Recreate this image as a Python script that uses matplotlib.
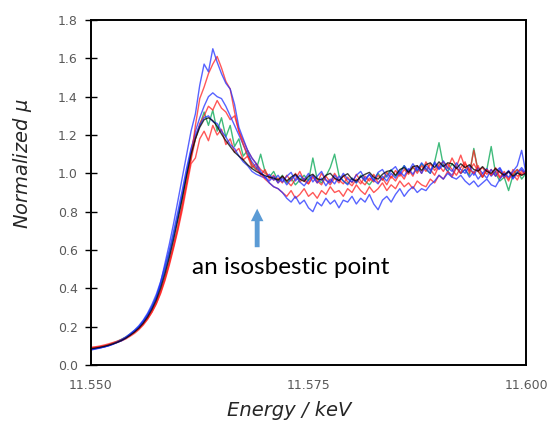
import numpy as np
import matplotlib
matplotlib.use('Agg')
import matplotlib.pyplot as plt

# --- data (0.5 eV sampling) ---
energy = np.linspace(11.550, 11.600, 101)

blue_hi = [0.080, 0.086, 0.090, 0.094, 0.100, 0.108, 0.118, 0.126, 0.140, 0.160,
           0.178, 0.198, 0.228, 0.262, 0.300, 0.350, 0.430, 0.530, 0.630, 0.740,
           0.860, 0.980, 1.100, 1.220, 1.310, 1.460, 1.570, 1.530, 1.650, 1.580,
           1.520, 1.470, 1.440, 1.360, 1.240, 1.180, 1.120, 1.080, 1.050, 1.010,
           0.980, 0.950, 0.930, 0.920, 0.900, 0.870, 0.850, 0.880, 0.840, 0.860,
           0.820, 0.800, 0.850, 0.830, 0.870, 0.840, 0.860, 0.820, 0.860, 0.850,
           0.880, 0.840, 0.870, 0.850, 0.890, 0.840, 0.810, 0.860, 0.880, 0.850,
           0.890, 0.920, 0.880, 0.910, 0.930, 0.900, 0.920, 0.910, 0.940, 0.960,
           0.990, 0.970, 1.000, 0.980, 0.970, 0.990, 0.960, 0.940, 0.960, 0.930,
           0.950, 0.970, 0.940, 0.930, 0.970, 1.000, 0.980, 1.010, 1.040, 1.120,
           1.000]

red_hi = [0.090, 0.092, 0.095, 0.100, 0.104, 0.112, 0.118, 0.126, 0.136, 0.150,
          0.165, 0.184, 0.208, 0.238, 0.275, 0.320, 0.378, 0.448, 0.530, 0.620,
          0.715, 0.830, 0.950, 1.080, 1.250, 1.390, 1.450, 1.520, 1.570, 1.610,
          1.550, 1.480, 1.440, 1.320, 1.220, 1.150, 1.090, 1.050, 1.020, 1.000,
          0.970, 0.950, 0.930, 0.920, 0.900, 0.880, 0.910, 0.870, 0.890, 0.920,
          0.880, 0.900, 0.870, 0.910, 0.890, 0.930, 0.900, 0.910, 0.880, 0.920,
          0.900, 0.940, 0.910, 0.890, 0.930, 0.900, 0.920, 0.950, 0.910, 0.940,
          0.920, 0.960, 0.930, 0.950, 0.920, 0.960, 0.940, 0.930, 0.970, 0.950,
          0.990, 0.970, 1.010, 0.980, 1.030, 1.000, 1.050, 1.020, 1.000, 1.040,
          0.980, 1.020, 0.990, 1.030, 0.980, 1.010, 0.970, 1.000, 1.020, 0.990,
          1.010]

blue_mid = [0.082, 0.085, 0.089, 0.094, 0.100, 0.108, 0.117, 0.128, 0.142, 0.158,
            0.176, 0.198, 0.225, 0.258, 0.300, 0.350, 0.415, 0.490, 0.575, 0.675,
            0.780, 0.895, 1.010, 1.120, 1.220, 1.290, 1.350, 1.400, 1.420, 1.400,
            1.390, 1.350, 1.300, 1.250, 1.200, 1.150, 1.100, 1.060, 1.030, 1.000,
            0.980, 0.960, 0.985, 0.950, 0.975, 0.940, 0.970, 0.990, 0.955, 0.935,
            0.965, 0.990, 0.950, 0.975, 0.935, 0.970, 0.945, 0.985, 0.960, 0.940,
            0.975, 0.950, 0.985, 0.960, 0.995, 0.965, 0.945, 0.985, 0.960, 1.000,
            0.975, 1.010, 0.985, 1.025, 0.995, 1.035, 1.000, 1.040, 1.015, 1.050,
            1.020, 1.045, 1.010, 0.990, 1.035, 1.000, 1.020, 0.980, 1.010, 0.970,
            1.000, 1.025, 0.985, 1.010, 1.030, 0.990, 1.015, 0.975, 1.005, 1.030,
            1.000]

red_mid = [0.088, 0.091, 0.094, 0.099, 0.104, 0.111, 0.120, 0.130, 0.142, 0.156,
           0.172, 0.192, 0.216, 0.246, 0.283, 0.328, 0.385, 0.455, 0.535, 0.625,
           0.725, 0.835, 0.950, 1.070, 1.180, 1.260, 1.300, 1.350, 1.330, 1.380,
           1.340, 1.320, 1.280, 1.300, 1.220, 1.170, 1.120, 1.080, 1.050, 1.020,
           1.000, 0.985, 0.965, 0.975, 0.950, 0.990, 0.960, 1.000, 0.955, 0.975,
           0.945, 0.990, 0.960, 0.940, 0.985, 0.955, 1.000, 0.965, 0.945, 0.980,
           0.950, 0.995, 0.960, 0.940, 0.975, 0.955, 0.990, 0.965, 1.005, 0.975,
           1.015, 0.985, 1.020, 0.995, 1.035, 1.000, 1.040, 1.010, 1.050, 1.015,
           1.045, 1.060, 1.025, 1.080, 1.035, 1.095, 1.030, 1.015, 1.050, 1.010,
           1.030, 0.995, 1.020, 0.985, 1.015, 0.975, 1.010, 0.995, 0.965, 1.015,
           0.995]

green_a = [0.086, 0.090, 0.093, 0.098, 0.105, 0.114, 0.123, 0.134, 0.146, 0.162,
           0.180, 0.200, 0.228, 0.262, 0.305, 0.355, 0.420, 0.500, 0.585, 0.680,
           0.780, 0.880, 0.990, 1.090, 1.180, 1.250, 1.320, 1.250, 1.330, 1.220,
           1.290, 1.190, 1.250, 1.140, 1.180, 1.090, 1.120, 1.040, 1.020, 1.100,
           1.010, 0.980, 1.010, 0.960, 0.990, 0.950, 0.975, 0.940, 0.965, 0.990,
           0.960, 1.080, 0.970, 0.950, 0.985, 1.030, 1.100, 0.990, 0.960, 0.945,
           0.975, 0.950, 0.990, 0.960, 0.940, 0.970, 1.000, 0.965, 0.990, 1.020,
           0.985, 1.010, 1.040, 1.000, 1.030, 1.010, 1.050, 1.020, 1.000, 1.060,
           1.160, 1.040, 1.010, 1.050, 1.030, 1.000, 1.020, 0.990, 1.130, 1.010,
           0.980, 1.020, 1.140, 1.000, 0.960, 0.980, 0.910, 0.990, 1.020, 0.970,
           1.000]

red_low = [0.092, 0.095, 0.099, 0.104, 0.110, 0.117, 0.124, 0.133, 0.144, 0.157,
           0.172, 0.190, 0.212, 0.240, 0.275, 0.318, 0.372, 0.440, 0.520, 0.610,
           0.705, 0.810, 0.930, 1.050, 1.080, 1.180, 1.220, 1.170, 1.250, 1.200,
           1.230, 1.150, 1.180, 1.110, 1.130, 1.070, 1.090, 1.030, 1.050, 0.990,
           1.020, 0.970, 0.990, 0.950, 0.985, 0.960, 0.935, 0.970, 1.010, 0.960,
           0.945, 0.980, 0.950, 1.000, 0.965, 0.940, 0.975, 0.950, 0.990, 0.955,
           0.935, 0.970, 0.945, 0.985, 0.960, 0.995, 0.950, 0.975, 0.940, 0.985,
           0.960, 1.000, 0.970, 1.020, 0.985, 1.040, 1.000, 1.060, 1.020, 0.990,
           1.040, 1.010, 1.050, 1.020, 0.990, 1.030, 1.060, 1.000, 1.120, 1.010,
           0.980, 1.020, 0.990, 1.010, 0.975, 1.000, 0.960, 1.020, 0.985, 1.000,
           1.010]

blue_low = [0.078, 0.083, 0.088, 0.094, 0.101, 0.110, 0.120, 0.132, 0.146, 0.163,
            0.182, 0.205, 0.234, 0.270, 0.315, 0.368, 0.435, 0.515, 0.600, 0.700,
            0.805, 0.915, 1.030, 1.130, 1.200, 1.250, 1.290, 1.300, 1.270, 1.260,
            1.220, 1.190, 1.150, 1.130, 1.090, 1.060, 1.040, 1.010, 0.995, 0.985,
            0.975, 0.995, 0.965, 0.990, 0.955, 0.985, 1.005, 0.960, 0.990, 0.965,
            1.000, 0.955, 0.985, 1.010, 0.965, 0.950, 0.990, 0.960, 1.000, 0.970,
            0.955, 0.990, 1.010, 0.970, 0.995, 0.960, 1.005, 1.020, 0.980, 1.015,
            1.035, 0.995, 1.040, 1.010, 1.050, 1.015, 1.055, 1.025, 1.000, 1.060,
            1.025, 1.065, 1.030, 1.010, 1.055, 1.020, 1.000, 1.040, 0.990, 1.030,
            1.000, 0.975, 1.020, 0.985, 1.025, 0.980, 1.010, 0.970, 1.005, 1.020,
            0.990]

black = [0.085, 0.088, 0.092, 0.097, 0.103, 0.110, 0.118, 0.128, 0.140, 0.155,
         0.172, 0.192, 0.218, 0.250, 0.290, 0.338, 0.400, 0.475, 0.560, 0.655,
         0.760, 0.870, 0.990, 1.100, 1.180, 1.240, 1.280, 1.290, 1.275, 1.245,
         1.205, 1.170, 1.140, 1.110, 1.090, 1.070, 1.045, 1.025, 1.010, 0.998,
         0.988, 0.980, 0.975, 0.965, 0.985, 0.960, 0.980, 0.995, 0.970, 0.958,
         0.985, 0.995, 0.972, 0.965, 0.990, 1.000, 0.975, 0.962, 0.985, 0.998,
         0.970, 0.960, 0.982, 0.995, 1.005, 0.980, 0.970, 0.995, 1.010, 1.015,
         0.990, 1.020, 1.030, 1.005, 1.035, 1.040, 1.015, 1.045, 1.055, 1.030,
         1.060, 1.035, 1.055, 1.050, 1.025, 1.050, 1.030, 1.045, 1.020, 1.012,
         1.035, 1.010, 1.000, 1.025, 1.005, 0.990, 1.010, 0.985, 1.002, 0.990,
         1.000]

series = [
    (green_a, '#00A550'),
    (red_low, '#FF2020'),
    (red_mid, '#FF2020'),
    (blue_low, '#2030FF'),
    (blue_mid, '#2030FF'),
    (red_hi, '#FF2020'),
    (blue_hi, '#2030FF'),
    (black, '#000000'),
]

# --- figure ---
fig = plt.figure(figsize=(5.47, 4.24), dpi=100)
ax = fig.add_axes([91 / 547, 59 / 424, 435 / 547, 345 / 424])

for vals, col in series:
    ax.plot(energy, vals, color=col, lw=1.0, alpha=0.75)

ax.set_xlim(11.550, 11.600)
ax.set_ylim(0.0, 1.8)
ax.set_xticks([11.550, 11.575, 11.600])
ax.set_xticklabels(['11.550', '11.575', '11.600'])
ax.set_yticks(np.arange(0, 1.81, 0.2))
ax.set_yticklabels([f'{v:.1f}' for v in np.arange(0, 1.81, 0.2)])
ax.tick_params(axis='x', length=0, pad=10, labelsize=9, labelcolor='#595959')
ax.tick_params(axis='y', direction='inout', length=9, width=1, pad=5,
               labelsize=9, labelcolor='#595959')
for s in ax.spines.values():
    s.set_linewidth(1.4)
    s.set_color('black')

fig.text(22 / 547, 1 - 164 / 424, 'Normalized $\\mu$', rotation=90,
         ha='center', va='center', fontsize=14, style='italic', color='#262626')
fig.text(289 / 547, 1 - 410 / 424, 'Energy / keV', ha='center', va='center',
         fontsize=14, style='italic', color='#262626')

# isosbestic point marker
ax.annotate('', xy=(11.5691, 0.83), xytext=(11.5691, 0.60),
            arrowprops=dict(arrowstyle='simple,head_width=0.9,head_length=0.9,tail_width=0.35',
                            color='#5B9BD5', lw=0))
ax.text(11.5730, 0.51, 'an isosbestic point', ha='center', va='center',
        fontsize=17.5, family='Lato', color='black')

fig.savefig('out.png', dpi=100)
